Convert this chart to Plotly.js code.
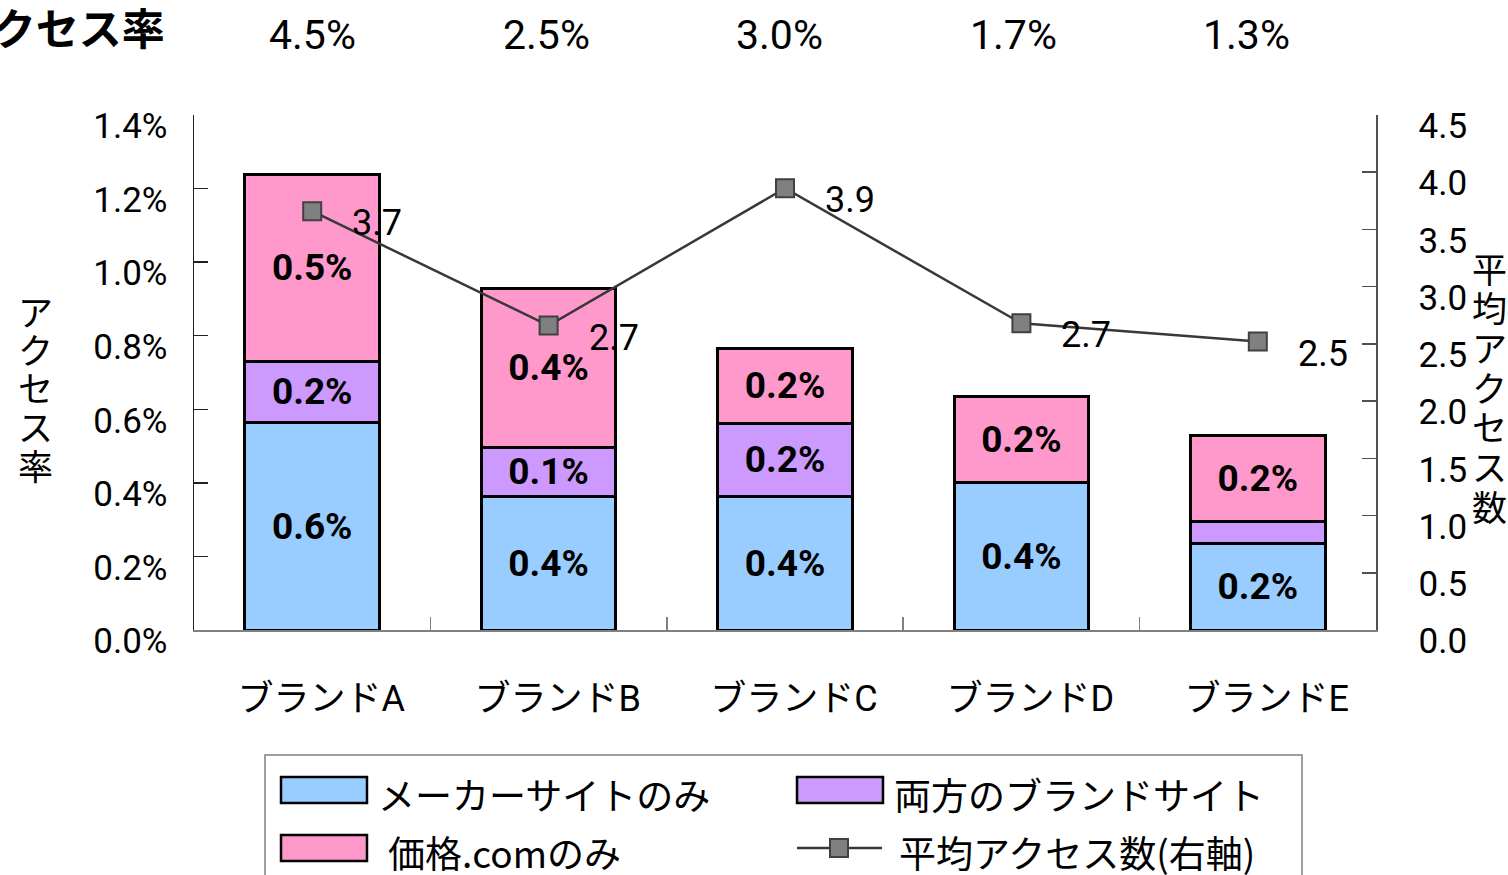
<!DOCTYPE html>
<html>
<head>
<meta charset="utf-8">
<script src="https://cdn.plot.ly/plotly-3.0.1.min.js"></script>
<style>
  html, body { margin: 0; padding: 0; background: #fff; }
  #chart { width: 1508px; height: 875px; }
</style>
</head>
<body>
<div id="chart"></div>
<script>
// ---- data ----
const categories = ['ブランドA', 'ブランドB', 'ブランドC', 'ブランドD', 'ブランドE'];
const seriesNames = ['メーカーサイトのみ', '両方のブランドサイト', '価格.comのみ', '平均アクセス数(右軸)'];
const makerOnly  = [0.00565, 0.00364, 0.00364, 0.00400, 0.00236];
const bothSites  = [0.00166, 0.00133, 0.00198, 0.00000, 0.00060];
const kakakuOnly = [0.00508, 0.00432, 0.00204, 0.00236, 0.00234];
const avgAccess  = [3.66, 2.66, 3.86, 2.68, 2.52];
const accessRate = [0.045, 0.025, 0.030, 0.017, 0.013];
const rowTitle = 'アクセス率';
const leftTitle = 'アクセス率';
const rightTitle = '平均アクセス数';

// ---- styling ----
const FONT = 'Roboto, "Noto Sans CJK JP", sans-serif';
const JFONT = '"Noto Sans CJK JP", sans-serif';
const colors = ['#99CCFF', '#CC99FF', '#FF99CC'];

// plot-area edges in pixels, used to place free text and the legend
const PL = 194, PR = 1376, PT = 115, PB = 630;
const px = x => (x - PL) / (PR - PL);
const py = y => (PB - y) / (PB - PT);

const pctLabel = v => (v >= 0.001 ? (v * 100).toFixed(1) + '%' : '');

function barTrace(vals, i) {
  return {
    type: 'bar',
    name: seriesNames[i],
    x: categories,
    y: vals,
    text: vals.map(pctLabel),
    textposition: 'inside',
    insidetextanchor: 'middle',
    textangle: 0,
    textfont: { family: FONT, size: 37, color: '#000', weight: 'bold' },
    marker: { color: colors[i], line: { color: '#000', width: 3 } },
    hoverinfo: 'skip',
    showlegend: false
  };
}

const traces = [
  barTrace(makerOnly, 0),
  barTrace(bothSites, 1),
  barTrace(kakakuOnly, 2),
  {
    type: 'scatter',
    mode: 'lines+markers',
    name: seriesNames[3],
    x: categories,
    y: avgAccess,
    yaxis: 'y2',
    line: { color: '#383838', width: 2.5 },
    marker: { symbol: 'square', size: 18, color: '#808080', line: { color: '#404040', width: 2 } },
    hoverinfo: 'skip',
    showlegend: false
  }
];

const annotations = [];

// values of the average-access line
avgAccess.forEach((v, i) => {
  annotations.push({
    x: categories[i], y: v, xref: 'x', yref: 'y2',
    text: v.toFixed(1), showarrow: false,
    xanchor: 'left', yanchor: 'middle', xshift: 38, yshift: -12,
    font: { family: FONT, size: 36, color: '#000' }
  });
});

// access-rate row above the plot, spaced evenly over the brand columns
const rowLeft = 196, rowStep = 233.5;
accessRate.forEach((v, i) => {
  annotations.push({
    x: px(rowLeft + (i + 0.5) * rowStep), y: py(35), xref: 'paper', yref: 'paper',
    text: (v * 100).toFixed(1) + '%', showarrow: false,
    xanchor: 'center', yanchor: 'middle',
    font: { family: FONT, size: 41, color: '#000' }
  });
});
annotations.push({
  x: px(167), y: py(26), xref: 'paper', yref: 'paper',
  text: '<b>' + rowTitle + '</b>', showarrow: false,
  xanchor: 'right', yanchor: 'middle',
  font: { family: JFONT, size: 43, color: '#000' }
});

// vertical axis titles, one upright character per line
function verticalTitle(str, cx, top, pitch) {
  Array.from(str).forEach((ch, k) => {
    annotations.push({
      x: px(cx), y: py(top + k * pitch), xref: 'paper', yref: 'paper',
      text: ch, showarrow: false, xanchor: 'center', yanchor: 'middle',
      font: { family: JFONT, size: 35, color: '#000' }
    });
  });
}
verticalTitle(leftTitle, 35, 310, 38.5);
verticalTitle(rightTitle, 1489, 267, 39.7);

// legend box with large swatches
const shapes = [{
  type: 'rect', xref: 'paper', yref: 'paper',
  x0: px(265), x1: px(1302), y0: py(755), y1: py(900),
  line: { color: '#808080', width: 1.5 }, fillcolor: 'rgba(0,0,0,0)'
}];
const legendSlots = [
  { sx: 281, sy: 790, tx: 376 },
  { sx: 797, sy: 790, tx: 892 },
  { sx: 281, sy: 848, tx: 386 },
  { sx: 797, sy: 848, tx: 897 }
];
legendSlots.forEach((s, i) => {
  if (i < 3) {
    shapes.push({
      type: 'rect', xref: 'paper', yref: 'paper',
      x0: px(s.sx), x1: px(s.sx + 86), y0: py(s.sy - 13), y1: py(s.sy + 13),
      fillcolor: colors[i], line: { color: '#000', width: 2.5 }
    });
  } else {
    shapes.push({
      type: 'line', xref: 'paper', yref: 'paper',
      x0: px(s.sx), x1: px(s.sx + 85), y0: py(s.sy), y1: py(s.sy),
      line: { color: '#383838', width: 2.5 }
    });
    shapes.push({
      type: 'rect', xref: 'paper', yref: 'paper',
      x0: px(s.sx + 33), x1: px(s.sx + 51), y0: py(s.sy - 9), y1: py(s.sy + 9),
      fillcolor: '#808080', line: { color: '#404040', width: 2 }
    });
  }
  annotations.push({
    x: px(s.tx), y: py(s.sy + 4), xref: 'paper', yref: 'paper',
    text: seriesNames[i], showarrow: false, xanchor: 'left', yanchor: 'middle',
    font: { family: JFONT, size: 37, color: '#000' }
  });
});

const layout = {
  width: 1508,
  height: 875,
  margin: { l: PL, r: 1508 - PR, t: PT, b: 875 - PB, pad: 0 },
  paper_bgcolor: '#fff',
  plot_bgcolor: '#fff',
  font: { family: FONT, color: '#000' },
  barmode: 'stack',
  bargap: 0.43,
  showlegend: false,
  uniformtext: { mode: 'show', minsize: 37 },
  xaxis: {
    type: 'category',
    range: [-0.5, 4.5],
    showline: true, linecolor: '#808080', linewidth: 1.5,
    ticks: 'inside', tickson: 'boundaries', ticklen: 13, tickcolor: '#808080', tickwidth: 1.5,
    showgrid: false, zeroline: false,
    tickfont: { family: FONT, size: 36, color: '#000' },
    ticklabelstandoff: 36,
    ticklabelshift: 9,
    fixedrange: true
  },
  yaxis: {
    range: [0, 0.014],
    dtick: 0.002,
    tickformat: '.1%',
    showline: true, linecolor: '#202020', linewidth: 1.5,
    ticks: 'inside', ticklen: 14, tickcolor: '#202020', tickwidth: 1.5,
    showgrid: false, zeroline: false,
    tickfont: { family: FONT, size: 35, color: '#000' },
    ticklabelstandoff: 18,
    ticklabelshift: 11,
    fixedrange: true
  },
  yaxis2: {
    overlaying: 'y',
    side: 'right',
    range: [0, 4.5],
    dtick: 0.5,
    tickformat: '.1f',
    showline: true, linecolor: '#505050', linewidth: 1.5,
    ticks: 'inside', ticklen: 14, tickcolor: '#505050', tickwidth: 1.5,
    showgrid: false, zeroline: false,
    tickfont: { family: FONT, size: 35, color: '#000' },
    ticklabelstandoff: 34,
    ticklabelshift: 11,
    fixedrange: true
  },
  annotations: annotations,
  shapes: shapes
};

Plotly.newPlot('chart', traces, layout, { displayModeBar: false, staticPlot: true });
</script>
</body>
</html>
